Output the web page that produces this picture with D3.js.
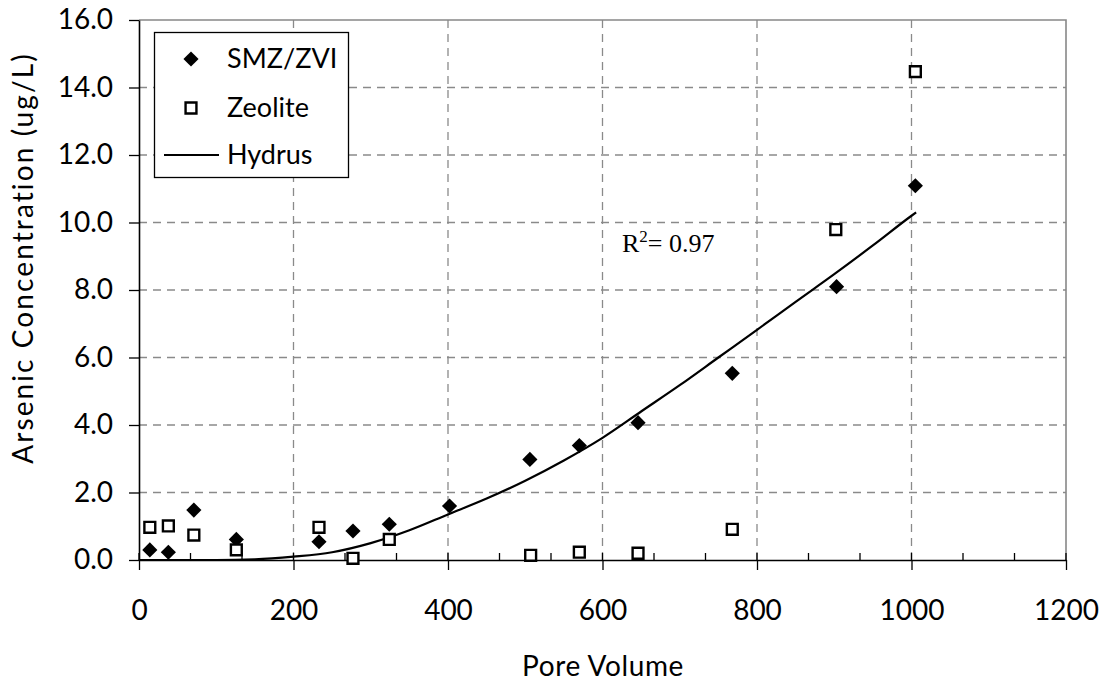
<!DOCTYPE html>
<html>
<head>
<meta charset="utf-8">
<script src="https://cdn.jsdelivr.net/npm/d3@7"></script>
<style>
  body { margin: 0; background: #fff; }
  svg { display: block; font-family: Lato, "Open Sans", sans-serif; }
</style>
</head>
<body>
<svg width="1107" height="685"></svg>
<script>
// ---- Data
const poreSMZ = [14, 38, 71, 126, 233, 277, 324, 402, 506, 570, 646, 768, 903, 1005];
const concSMZ = [0.30, 0.23, 1.48, 0.61, 0.54, 0.86, 1.06, 1.60, 2.98, 3.39, 4.07, 5.53, 8.10, 11.09];

const poreZeo = [14, 38, 71, 126, 233, 277, 324, 507, 570, 646, 768, 902, 1005];
const concZeo = [0.97, 1.01, 0.74, 0.30, 0.97, 0.05, 0.61, 0.14, 0.23, 0.20, 0.91, 9.79, 14.47];

const poreHydrus = [0, 50, 100, 150, 200, 250, 300, 350, 400, 450, 500, 550, 600, 650, 700, 750, 800, 850, 900, 950, 1000, 1006];
const concHydrus = [0, 0, 0, 0.02, 0.1, 0.23, 0.5, 0.88, 1.35, 1.82, 2.35, 2.95, 3.62, 4.4, 5.18, 6.0, 6.82, 7.65, 8.47, 9.32, 10.2, 10.3];

const xTicks = [0, 200, 400, 600, 800, 1000, 1200];
const yTicks = [0, 2, 4, 6, 8, 10, 12, 14, 16];
const legendLabels = ['SMZ/ZVI', 'Zeolite', 'Hydrus'];

const margens = { left: 139, right: 41, top: 20, bottom: 125 };

const svg = d3.select('svg');
const W = +svg.attr('width'), H = +svg.attr('height');
const iw = W - margens.left - margens.right;
const ih = H - margens.top - margens.bottom;

// ---- Escalas
const mapX = d3.scaleLinear().domain([0, 1200]).range([0, iw]);
const mapY = d3.scaleLinear().domain([0, 16]).range([ih, 0]);

const g = svg.append('g').attr('transform', `translate(${margens.left}, ${margens.top})`);

// ---- Grid
g.append('g').selectAll('line')
    .data(yTicks.filter(d => d > 0 && d < 16))
    .join('line')
    .attr('x1', 0).attr('x2', iw)
    .attr('y1', d => mapY(d)).attr('y2', d => mapY(d))
    .attr('stroke', '#8a8a8a').attr('stroke-width', 1.3)
    .attr('stroke-dasharray', '8,6');

g.append('g').selectAll('line')
    .data(xTicks.filter(d => d > 0 && d < 1200))
    .join('line')
    .attr('x1', d => mapX(d)).attr('x2', d => mapX(d))
    .attr('y1', 0).attr('y2', ih)
    .attr('stroke', '#8a8a8a').attr('stroke-width', 1.3)
    .attr('stroke-dasharray', '8,6');

// border top / right
g.append('path')
    .attr('d', `M0,0H${iw}V${ih}`)
    .attr('fill', 'none').attr('stroke', '#888').attr('stroke-width', 1.6);

// ---- Eixos
const xAxis = d3.axisBottom(mapX).tickValues(xTicks).tickFormat(d3.format('d'))
    .tickSize(10).tickSizeOuter(0).tickPadding(30);
const groupX = g.append('g')
    .attr('transform', `translate(0, ${ih})`)
    .call(xAxis);

// inner minor ticks every 200/3
const minor = d3.range(0, 1200.01, 200 / 3);
g.append('g').selectAll('line')
    .data(minor)
    .join('line')
    .attr('x1', d => mapX(d)).attr('x2', d => mapX(d))
    .attr('y1', ih - 7).attr('y2', ih)
    .attr('stroke', '#000').attr('stroke-width', 1.3);

const yAxis = d3.axisLeft(mapY).tickValues(yTicks).tickFormat(d3.format('.1f'))
    .tickSize(10).tickSizeOuter(0).tickPadding(16);
const groupY = g.append('g').call(yAxis);

[groupX, groupY].forEach(ax => {
    ax.select('.domain').attr('stroke', '#000').attr('stroke-width', 1.6);
    ax.selectAll('.tick line').attr('stroke', '#000').attr('stroke-width', 1.3);
    ax.selectAll('.tick text').attr('fill', '#000').style('font-size', '28px').style('font-family', 'Lato');
});

// ---- Titulos
svg.append('text')
    .attr('x', 603).attr('y', 676)
    .attr('text-anchor', 'middle')
    .style('font-size', '28px')
    .style('letter-spacing', '0.6px')
    .text('Pore Volume');

svg.append('text')
    .attr('transform', 'translate(33, 258) rotate(-90)')
    .attr('text-anchor', 'middle')
    .style('font-size', '28px')
    .style('letter-spacing', '2.1px')
    .text('Arsenic Concentration (ug/L)');

// ---- Hydrus
const hydrus = poreHydrus.map((p, i) => ({ x: p, y: concHydrus[i] }));
g.append('path')
    .datum(hydrus)
    .attr('fill', 'none')
    .attr('stroke', '#000')
    .attr('stroke-width', 2.2)
    .attr('d', d3.line()
        .x(d => mapX(d.x))
        .y(d => mapY(d.y))
        .curve(d3.curveMonotoneX));

// ---- Pontos
const diamond = d3.symbol().type(d3.symbolSquare).size(115)();
const square = d3.symbol().type(d3.symbolSquare).size(118)();

g.append('g').selectAll('path')
    .data(poreSMZ.map((p, i) => ({ x: p, y: concSMZ[i] })))
    .join('path')
    .attr('d', diamond)
    .attr('transform', d => `translate(${mapX(d.x)}, ${mapY(d.y)}) rotate(45)`)
    .attr('fill', '#000');

g.append('g').selectAll('path')
    .data(poreZeo.map((p, i) => ({ x: p, y: concZeo[i] })))
    .join('path')
    .attr('d', square)
    .attr('transform', d => `translate(${mapX(d.x)}, ${mapY(d.y)})`)
    .attr('fill', '#fff')
    .attr('stroke', '#000')
    .attr('stroke-width', 2.4);

// ---- R2
const r2 = svg.append('text')
    .attr('x', 622).attr('y', 252)
    .style('font-family', '"Liberation Serif", serif')
    .style('font-size', '26px');
r2.append('tspan').text('R');
r2.append('tspan').attr('dy', -10).style('font-size', '17px').text('2');
r2.append('tspan').attr('dy', 10).text('= 0.97');

// ---- Legenda
const leg = svg.append('g');
leg.append('rect')
    .attr('x', 154.5).attr('y', 32.5).attr('width', 194).attr('height', 145)
    .attr('fill', '#fff').attr('stroke', '#000').attr('stroke-width', 1.3);

const legY = [59, 108, 155];
leg.append('path')
    .attr('d', diamond)
    .attr('transform', `translate(191, ${legY[0]}) rotate(45)`)
    .attr('fill', '#000');
leg.append('path')
    .attr('d', square)
    .attr('transform', `translate(191, ${legY[1]})`)
    .attr('fill', '#fff').attr('stroke', '#000').attr('stroke-width', 2.4);
leg.append('line')
    .attr('x1', 164).attr('x2', 219)
    .attr('y1', legY[2]).attr('y2', legY[2])
    .attr('stroke', '#000').attr('stroke-width', 2.2);

leg.selectAll('text')
    .data(legendLabels)
    .join('text')
    .attr('x', 227)
    .attr('y', (d, i) => legY[i])
    .attr('dy', '0.35em')
    .style('font-size', '27px')
    .text(d => d);
</script>
</body>
</html>
